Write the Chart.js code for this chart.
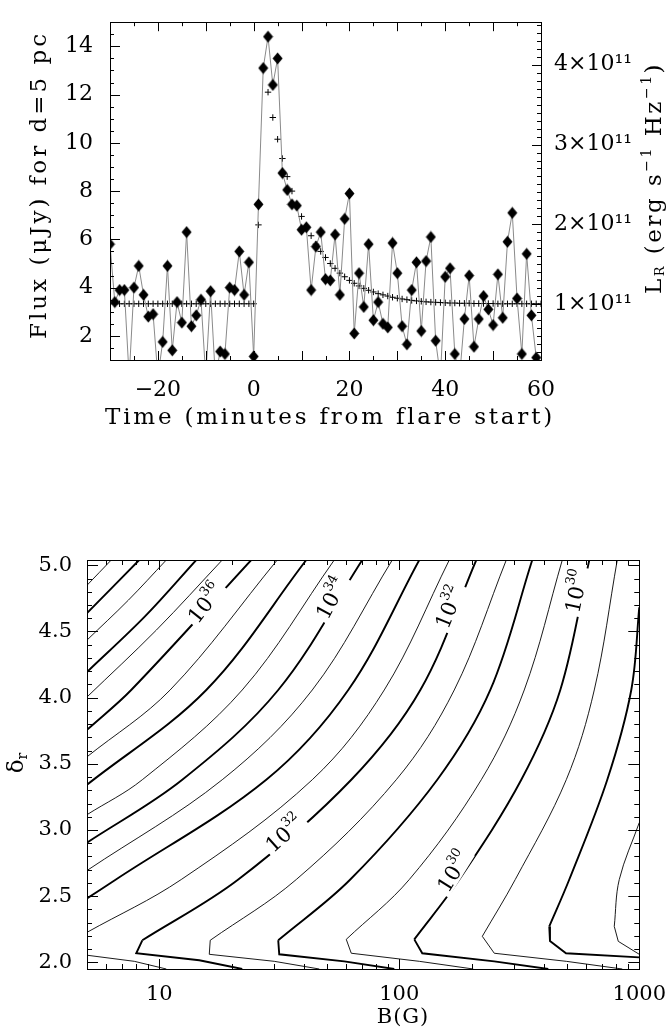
<!DOCTYPE html>
<html>
<head>
<meta charset="utf-8">
<script src="https://cdn.jsdelivr.net/npm/chart.js@4.4.1/dist/chart.umd.min.js"></script>
<style>
  html, body { margin: 0; padding: 0; background: #fff; }
  #arriba { position: absolute; left: 0; top: 0; width: 671px; height: 440px; }
  #abajo { position: absolute; left: 0; top: 540px; width: 671px; height: 494px; }
</style>
</head>
<body>
<div id="arriba"><canvas id="flare"></canvas></div>
<div id="abajo"><canvas id="contornos"></canvas></div>
<script>
// ---- panel superior: curva de luz ----
const minutos = [-30,-29,-28,-27,-26,-25,-24,-23,-22,-21,-20,-19,-18,-17,-16,-15,-14,-13,-12,-11,
  -10,-9,-8,-7,-6,-5,-4,-3,-2,-1,0,1,2,3,4,5,6,7,8,9,10,11,12,13,14,15,16,17,18,19,
  20,21,22,23,24,25,26,27,28,29,30,31,32,33,34,35,36,37,38,39,40,41,42,43,44,45,46,47,48,49,
  50,51,52,53,54,55,56,57,58,59];
const flujo = [5.8,3.4,3.9,3.9,0.3,4.0,4.9,3.7,2.8,2.9,0.3,1.75,4.9,1.4,3.4,2.55,6.3,2.4,2.85,3.5,
  0.3,3.85,0.3,1.35,1.25,4.0,3.9,5.5,3.7,5.05,1.15,7.45,13.1,14.4,12.4,13.5,8.75,8.05,7.45,7.4,
  6.4,6.5,3.9,5.7,6.3,4.35,4.3,6.2,3.7,6.85,7.9,2.1,4.6,3.2,5.8,2.65,3.4,2.5,2.35,5.85,
  4.6,2.4,1.65,3.9,5.05,2.2,5.1,6.1,1.8,0.3,4.45,4.8,1.25,0.3,2.7,4.5,1.55,2.7,3.65,3.1,
  2.45,4.55,2.75,5.9,7.1,3.55,1.25,5.4,2.85,1.1];

const minutosModelo = [-30,-29,-28,-27,-26,-25,-24,-23,-22,-21,-20,-19,-18,-17,-16,-15,-14,-13,-12,-11,
  -10,-9,-8,-7,-6,-5,-4,-3,-2,-1,0,1,2,3,4,5,6,7,8,9,10,11,12,13,14,15,16,17,18,19,
  20,21,22,23,24,25,26,27,28,29,30,31,32,33,34,35,36,37,38,39,40,41,42,43,44,45,46,47,48,49,
  50,51,52,53,54,55,56,57,58,59,60];
const modelo = [3.33,3.33,3.33,3.33,3.33,3.33,3.33,3.33,3.33,3.33,3.33,3.33,3.33,3.33,3.33,3.33,3.33,3.33,3.33,3.33,
  3.33,3.33,3.33,3.33,3.33,3.33,3.33,3.33,3.33,3.33,3.33,6.6,13.1,12.1,11.05,10.15,9.35,8.6,8.0,7.45,
  6.95,6.5,6.15,5.8,5.5,5.25,5.0,4.8,4.6,4.45,4.3,4.18,4.07,3.97,3.89,3.82,3.75,3.7,3.65,3.6,
  3.56,3.53,3.5,3.47,3.45,3.43,3.41,3.4,3.39,3.38,3.37,3.36,3.36,3.35,3.35,3.35,3.34,3.34,3.34,3.34,
  3.34,3.33,3.33,3.33,3.33,3.33,3.33,3.33,3.33,3.33,3.33];

const ticksTiempo = [-20, 0, 20, 40, 60];
const marcasTiempo = [-30, -20, -10, 0, 10, 20, 30, 40, 50, 60];
const ticksFlujo = [2, 4, 6, 8, 10, 12, 14];
const ticksLum = [1, 2, 3, 4];          // x 10^11 erg/s/Hz
const factorLum = 3.31;                 // uJy por 10^11 erg/s/Hz a 5 pc

// ---- panel inferior: contornos de luminosidad [B (G), delta_r] ----
const lum385 = [[5,4.849],[6.31,5.04]];
const lum380 = [[5,4.638],[8.25,5.04]];
const lum375 = [[5,4.435],[7.43,4.736],[10.7,5.04]];
const lum370 = [[5,4.194],[8.74,4.616],[14.26,5.04]];
const lum365 = [[5,4.005],[9.72,4.51],[18.3,5.04]];
const lum360 = [[5,3.757],[7.64,4.058],[24.17,5.04]];
const lum355 = [[5,3.553],[11.1,4.058],[31.01,5.04]];
const lum350 = [[5,3.342],[15.7,4.058],[40.99,5.04]];
const lum345 = [[5,3.116],[8.5,3.38],[22.17,4.058],[53.6,5.04]];
const lum340 = [[5,2.905],[12.47,3.38],[31.31,4.058],[70.13,5.04]];
const lum335 = [[5,2.694],[18.3,3.38],[43.41,4.058],[93.5,5.04]];
const lum330 = [[5,2.483],[6.6,2.626],[27.91,3.38],[61.31,4.058],[121.2,5.04]];
const lum325 = [[5,2.227],[12.35,2.626],[43.41,3.38],[86.6,4.058],[161.6,5.04]];
const lum325b = [[5,2.054],[7.87,2.008],[10.7,1.95]];
const lum320 = [[8.5,2.167],[21.34,2.626],[63.1,3.38],[122.4,4.058],[209.4,5.04]];
const lum320b = [[8.5,2.167],[8.02,2.069],[14.68,2.016],[22.17,1.95]];
const lum315 = [[16.31,2.167],[37.23,2.626],[97.16,3.38],[169.5,4.058],[279.2,5.04]];
const lum315b = [[16.31,2.167],[16.16,2.061],[30.14,2.008],[46.42,1.95]];
const lum310 = [[31.31,2.167],[62.5,2.626],[144.0,3.38],[239.5,4.058],[358.2,5.04]];
const lum310b = [[31.31,2.167],[31.62,2.061],[59.0,2.008],[95.32,1.95]];
const lum305 = [[60.14,2.174],[110.1,2.626],[219.7,3.38],[331.7,4.058],[477.8,5.04]];
const lum305b = [[60.14,2.174],[63.1,2.069],[121.2,2.008],[203.4,1.95]];
const lum300 = [[115.5,2.174],[177.8,2.626],[322.4,3.38],[468.7,4.058],[619.2,5.04]];
const lum300b = [[115.5,2.174],[124.7,2.069],[248.8,2.008],[417.8,1.95]];
const lum295 = [[221.8,2.197],[304.3,2.626],[496.4,3.38],[649.4,4.058],[809.6,5.04]];
const lum295b = [[221.8,2.197],[248.8,2.069],[496.4,2.008],[849.5,1.95]];
const lum290 = [[421.7,2.272],[510.9,2.626],[735.6,3.38],[926.1,4.058],[1000,4.683]];
const lum290b = [[421.7,2.272],[424.6,2.161],[495.1,2.069],[1000,2.038]];
const lum285 = [[786.6,2.272],[825.4,2.626],[1000,3.056]];
const lum285b = [[786.6,2.272],[817.5,2.159],[1000,2.061]];

const ticksCampo = [10, 100, 1000];
const ticksDelta = [2.0, 2.5, 3.0, 3.5, 4.0, 4.5, 5.0];

// etiquetas de los contornos: exponente, posicion (B, delta) y angulo
const etiquetas = [
  ['36', 15.55, 4.714, -52],
  ['34', 52.1, 4.751, -62],
  ['32', 161.6, 4.683, -68],
  ['30', 546.4, 4.804, -78],
  ['32', 33.2, 2.973, -42],
  ['30', 167.9, 2.687, -58]
];

Chart.defaults.font.family = "'DejaVu Serif', serif";
Chart.defaults.color = '#000';
Chart.defaults.animation = false;

// marcas minimas
const menores = (desde, hasta, paso) => {
  const r = [];
  for (let v = desde; v <= hasta + 1e-9; v += paso) r.push(Math.round(v * 100) / 100);
  return r;
};
const menoresLog = [];
[1, 10, 100].forEach(d => [2,3,4,5,6,7,8,9].forEach(m => { if (d*m >= 5 && d*m <= 1000) menoresLog.push(d*m); }));

// rombo algo mas alto que ancho
const rombo = document.createElement('canvas');
rombo.width = 11; rombo.height = 13;
const rctx = rombo.getContext('2d');
rctx.fillStyle = '#000';
rctx.beginPath();
rctx.moveTo(5.5, 0.5); rctx.lineTo(10.5, 6.5); rctx.lineTo(5.5, 12.5); rctx.lineTo(0.5, 6.5);
rctx.closePath(); rctx.fill();

// marco y marcas hacia dentro
const marco = {
  id: 'marco',
  afterDatasetsDraw(chart, args, o) {
    const {ctx, chartArea: a} = chart;
    ctx.save();
    ctx.strokeStyle = '#000';
    ctx.lineWidth = 1;
    ctx.beginPath();
    const sx = chart.scales.x;
    o.x.forEach(([vals, len]) => vals.forEach(v => {
      const p = Math.round(sx.getPixelForValue(v)) + 0.5;
      ctx.moveTo(p, a.bottom); ctx.lineTo(p, a.bottom - len);
      ctx.moveTo(p, a.top); ctx.lineTo(p, a.top + len);
    }));
    o.y.forEach(([id, lado, vals, len]) => {
      const s = chart.scales[id];
      vals.forEach(v => {
        const p = Math.round(s.getPixelForValue(v)) + 0.5;
        if (p < a.top || p > a.bottom) return;
        if (lado === 'izq') { ctx.moveTo(a.left, p); ctx.lineTo(a.left + len, p); }
        else { ctx.moveTo(a.right, p); ctx.lineTo(a.right - len, p); }
      });
    });
    ctx.stroke();
    ctx.strokeRect(Math.round(a.left) + 0.5, Math.round(a.top) + 0.5,
      Math.round(a.right - a.left), Math.round(a.bottom - a.top));
    ctx.restore();
  }
};

function escribir(ctx, item) {
  ctx.save();
  ctx.translate(item.x, item.y);
  if (item.rot) ctx.rotate(item.rot * Math.PI / 180);
  ctx.fillStyle = '#000';
  ctx.textBaseline = 'middle';
  ctx.textAlign = 'left';
  if ('letterSpacing' in ctx) ctx.letterSpacing = (item.esp || 0) + 'px';
  let total = 0;
  const anchos = item.runs.map(r => {
    ctx.font = r[1] + "px 'DejaVu Serif'";
    const w = ctx.measureText(r[0]).width;
    total += w;
    return w;
  });
  let x = -total / 2;
  item.runs.forEach((r, i) => {
    ctx.font = r[1] + "px 'DejaVu Serif'";
    ctx.fillText(r[0], x, r[2] || 0);
    x += anchos[i];
  });
  ctx.restore();
}

const rotulos = {
  id: 'rotulos',
  afterDraw(chart, args, o) {
    o.items.forEach(it => escribir(chart.ctx, it));
  }
};

const etiquetasContorno = {
  id: 'etiquetasContorno',
  afterDatasetsDraw(chart) {
    const {ctx} = chart;
    etiquetas.forEach(([exp, b, d, ang]) => {
      const px = chart.scales.x.getPixelForValue(b);
      const py = chart.scales.y.getPixelForValue(d);
      ctx.save();
      ctx.translate(px, py);
      ctx.rotate(ang * Math.PI / 180);
      ctx.font = "21px 'DejaVu Serif'";
      const w1 = ctx.measureText('10').width;
      ctx.font = "13px 'DejaVu Serif'";
      const w2 = ctx.measureText(exp).width;
      const w = w1 + w2;
      ctx.fillStyle = '#fff';
      ctx.fillRect(-w / 2 - 3, -10, w + 6, 20);
      ctx.fillStyle = '#000';
      ctx.textBaseline = 'middle';
      ctx.font = "21px 'DejaVu Serif'";
      ctx.fillText('10', -w / 2, 2);
      ctx.font = "13px 'DejaVu Serif'";
      ctx.fillText(exp, -w / 2 + w1, -7);
      ctx.restore();
    });
  }
};

const fijarTicks = vals => scale => { scale.ticks = vals.map(v => ({value: v})); };
const menos = v => v < 0 ? '\u2212' + Math.abs(v) : String(v);

// ---------- grafica superior ----------
new Chart(document.getElementById('flare'), {
  type: 'scatter',
  data: {
    datasets: [{
      data: minutos.map((t, i) => ({x: t, y: flujo[i]})),
      showLine: true,
      borderColor: '#8a8a8a',
      borderWidth: 1,
      pointStyle: rombo,
      pointRadius: 5,
      order: 0
    }, {
      data: minutosModelo.map((t, i) => ({x: t, y: modelo[i]})),
      showLine: false,
      pointStyle: 'cross',
      pointRadius: 3.2,
      pointBorderColor: '#000',
      pointBorderWidth: 1,
      order: 1
    }]
  },
  plugins: [marco, rotulos],
  options: {
    responsive: true,
    maintainAspectRatio: false,
    devicePixelRatio: 1,
    layout: {padding: {top: 7}},
    plugins: {
      legend: {display: false},
      tooltip: {enabled: false},
      marco: {
        x: [[marcasTiempo, 9], [menores(-25, 55, 10), 4]],
        y: [['y', 'izq', ticksFlujo, 10], ['y', 'izq', menores(1.5, 14.5, 0.5), 4],
            ['y1', 'der', ticksLum, 9], ['y1', 'der', menores(0.4, 4.5, 0.1), 4]]
      },
      rotulos: {
        items: [
          {x: 330, y: 418, esp: 2.8, runs: [['Time (minutes from flare start)', 23]]},
          {x: 40, y: 185, rot: -90, esp: 3, runs: [['Flux (\u03bcJy) for d=5 pc', 23]]},
          {x: 655, y: 178, rot: -90, esp: 2.5, runs: [['L', 23], ['R', 13, 6], [' (erg s', 23],
            ['\u22121', 14, -8], [' Hz', 23], ['\u22121', 14, -8], [')', 23]]}
        ]
      }
    },
    scales: {
      x: {
        type: 'linear', position: 'bottom', min: -30, max: 60,
        grid: {display: false}, border: {display: false},
        afterBuildTicks: fijarTicks(ticksTiempo),
        afterFit: s => { s.height = 80; },
        ticks: {font: {size: 22}, padding: 9, maxRotation: 0, autoSkip: false, callback: v => menos(v)}
      },
      y: {
        type: 'linear', position: 'left', min: 1, max: 15,
        grid: {display: false}, border: {display: false},
        afterBuildTicks: fijarTicks(ticksFlujo),
        afterFit: s => { s.width = 110; },
        ticks: {font: {size: 22}, padding: 9, autoSkip: false}
      },
      y1: {
        type: 'linear', position: 'right', min: 1 / factorLum, max: 15 / factorLum,
        grid: {display: false}, border: {display: false},
        afterBuildTicks: fijarTicks(ticksLum),
        afterFit: s => { s.width = 130; },
        ticks: {font: {size: 22}, padding: 5, autoSkip: false, callback: v => v + '\u00d710\u00b9\u00b9'}
      }
    }
  }
});

// ---------- grafica inferior ----------
const contornos = [
  [lum385, 1], [lum380, 2], [lum375, 1], [lum370, 2], [lum365, 1], [lum360, 2], [lum355, 1],
  [lum350, 2], [lum345, 1], [lum340, 2], [lum335, 1], [lum330, 2], [lum325, 1], [lum325b, 1, 0],
  [lum320, 2], [lum320b, 2, 0], [lum315, 1], [lum315b, 1, 0], [lum310, 2], [lum310b, 2, 0],
  [lum305, 1], [lum305b, 1, 0], [lum300, 2], [lum300b, 2, 0], [lum295, 1], [lum295b, 1, 0],
  [lum290, 2], [lum290b, 2, 0], [lum285, 1], [lum285b, 1, 0]
];

new Chart(document.getElementById('contornos'), {
  type: 'scatter',
  data: {
    datasets: contornos.map(([pts, ancho, tension]) => ({
      data: pts.map(p => ({x: p[0], y: p[1]})),
      showLine: true,
      borderColor: '#000',
      borderWidth: ancho === 2 ? 1.9 : 0.9,
      pointRadius: 0,
      tension: tension === 0 ? 0 : 0.35
    }))
  },
  plugins: [etiquetasContorno, marco, rotulos],
  options: {
    responsive: true,
    maintainAspectRatio: false,
    devicePixelRatio: 1,
    layout: {padding: {top: 20, right: 30}},
    plugins: {
      legend: {display: false},
      tooltip: {enabled: false},
      marco: {
        x: [[ticksCampo, 10], [menoresLog, 5]],
        y: [['y', 'izq', ticksDelta, 11], ['y', 'izq', menores(2.0, 5.0, 0.1), 5],
            ['y', 'der', ticksDelta, 11], ['y', 'der', menores(2.0, 5.0, 0.1), 5]]
      },
      rotulos: {
        items: [
          {x: 403, y: 478, esp: 1, runs: [['B(G)', 21]]},
          {x: 17, y: 223, rot: -90, runs: [['\u03b4', 23], ['r', 14, 6]]}
        ]
      }
    },
    scales: {
      x: {
        type: 'logarithmic', position: 'bottom', min: 5, max: 1000,
        grid: {display: false}, border: {display: false},
        afterBuildTicks: fijarTicks(ticksCampo),
        afterFit: s => { s.height = 65; },
        ticks: {font: {size: 21}, padding: 5, maxRotation: 0, autoSkip: false, callback: v => String(v)}
      },
      y: {
        type: 'linear', position: 'left', min: 1.95, max: 5.04,
        grid: {display: false}, border: {display: false},
        afterBuildTicks: fijarTicks(ticksDelta),
        afterFit: s => { s.width = 87; },
        ticks: {font: {size: 21}, padding: 7, autoSkip: false, callback: v => v.toFixed(1)}
      }
    }
  }
});
</script>
</body>
</html>
